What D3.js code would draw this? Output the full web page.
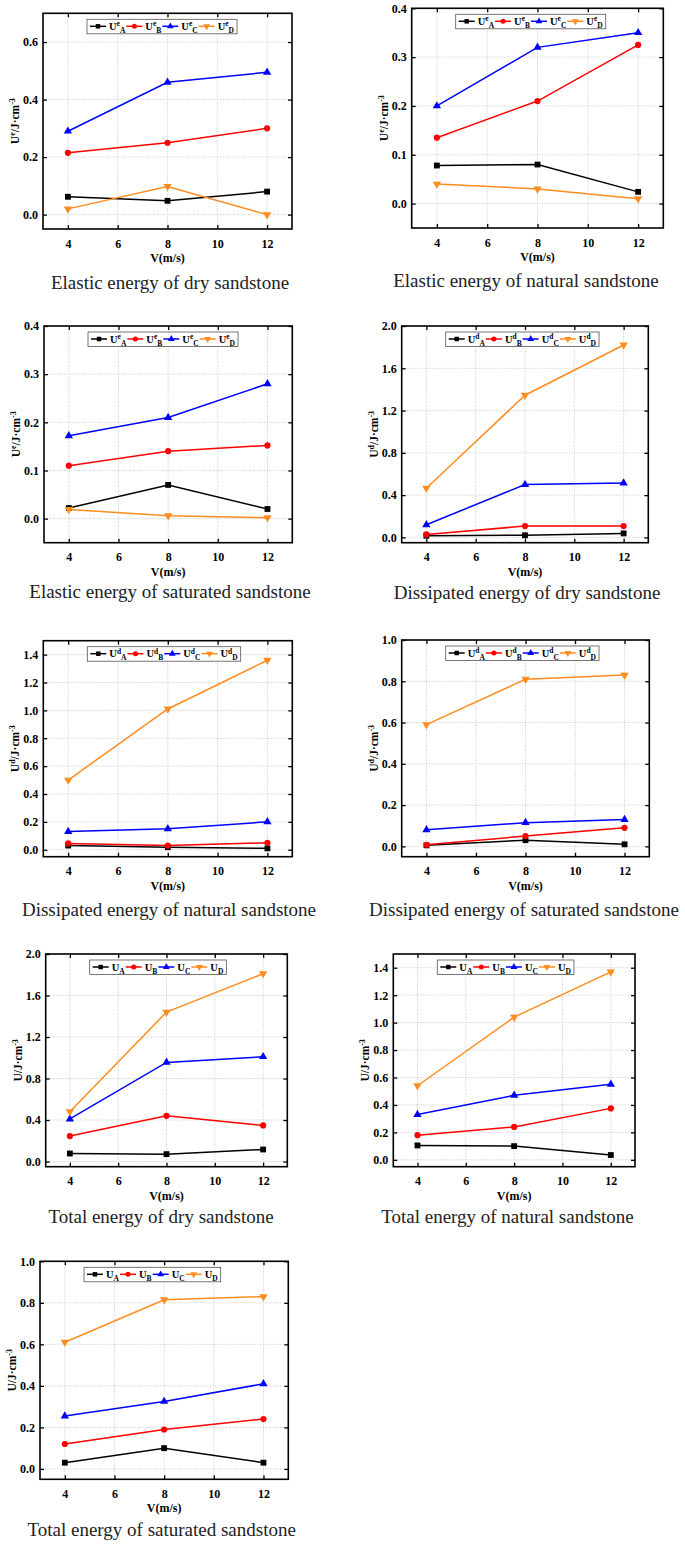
<!DOCTYPE html>
<html>
<head>
<meta charset="utf-8">
<script src="https://cdn.jsdelivr.net/npm/d3@7"></script>
<style>
  body { margin: 0; background: #fff; }
  svg { display: block; }
</style>
</head>
<body>
<div id="chart"></div>
<script>
// impact speed (m/s) on the x axis
const speeds = [4, 8, 12];
const xTicks = [4, 6, 8, 10, 12];
const seriesKeys = ["A", "B", "C", "D"];

// energy density J/cm3, rows = series A, B, C, D
const elasticDry = [[0.062, 0.048, 0.080], [0.215, 0.250, 0.300], [0.290, 0.460, 0.495], [0.020, 0.098, 0.000]];
const elasticNatural = [[0.078, 0.080, 0.024], [0.135, 0.210, 0.325], [0.200, 0.320, 0.350], [0.040, 0.030, 0.010]];
const elasticSaturated = [[0.022, 0.070, 0.020], [0.110, 0.140, 0.152], [0.172, 0.210, 0.280], [0.019, 0.006, 0.002]];
const dissipatedDry = [[0.016, 0.020, 0.038], [0.028, 0.107, 0.107], [0.120, 0.500, 0.515], [0.465, 1.345, 1.820]];
const dissipatedNatural = [[0.030, 0.018, 0.010], [0.045, 0.030, 0.050], [0.130, 0.150, 0.200], [0.500, 1.010, 1.360]];
const dissipatedSaturated = [[0.005, 0.030, 0.010], [0.008, 0.050, 0.090], [0.080, 0.115, 0.130], [0.590, 0.810, 0.830]];
const totalDry = [[0.077, 0.071, 0.116], [0.245, 0.440, 0.348], [0.410, 0.955, 1.010], [0.480, 1.440, 1.810]];
const totalNatural = [[0.105, 0.100, 0.035], [0.180, 0.240, 0.375], [0.330, 0.470, 0.550], [0.540, 1.040, 1.370]];
const totalSaturated = [[0.030, 0.100, 0.030], [0.120, 0.190, 0.240], [0.255, 0.325, 0.410], [0.610, 0.815, 0.830]];

// y tick labels
const ticksElasticDry = [0, 0.2, 0.4, 0.6];
const ticksTenths = [0, 0.1, 0.2, 0.3, 0.4];
const ticksTwo = [0, 0.4, 0.8, 1.2, 1.6, 2.0];
const ticksFifths14 = [0, 0.2, 0.4, 0.6, 0.8, 1.0, 1.2, 1.4];
const ticksFifths10 = [0, 0.2, 0.4, 0.6, 0.8, 1.0];

const captions = [
  "Elastic energy of dry sandstone",
  "Elastic energy of natural sandstone",
  "Elastic energy of saturated sandstone",
  "Dissipated energy of dry sandstone",
  "Dissipated energy of natural sandstone",
  "Dissipated energy of saturated sandstone",
  "Total energy of dry sandstone",
  "Total energy of natural sandstone",
  "Total energy of saturated sandstone"
];

const colors = ["#000000", "#ff0000", "#0000ff", "#ff8c1e"];
const symbols = [d3.symbolSquare, d3.symbolCircle, d3.symbolTriangle, d3.symbolTriangle];
const serif = "'Liberation Serif', 'Times New Roman', 'DejaVu Serif', serif";

// panel boxes (layout only)
const panels = [
  { data: elasticDry, ticks: ticksElasticDry, yMax: 0.7, sup: "e", x0: 43, x1: 292, y0: 13.3, y1: 229, capX: 170, capY: 289 },
  { data: elasticNatural, ticks: ticksTenths, yMax: 0.4, sup: "e", x0: 411.7, x1: 663.3, y0: 8.3, y1: 228, capX: 526, capY: 287 },
  { data: elasticSaturated, ticks: ticksTenths, yMax: 0.4, sup: "e", x0: 44, x1: 292.3, y0: 326, y1: 542.7, capX: 170, capY: 598 },
  { data: dissipatedDry, ticks: ticksTwo, yMax: 2.0, sup: "d", x0: 401.7, x1: 648.3, y0: 326, y1: 542.7, capX: 527, capY: 599 },
  { data: dissipatedNatural, ticks: ticksFifths14, yMax: 1.5, sup: "d", x0: 43.3, x1: 292.3, y0: 640.7, y1: 856.7, capX: 169, capY: 916 },
  { data: dissipatedSaturated, ticks: ticksFifths10, yMax: 1.0, sup: "d", x0: 401.7, x1: 649.3, y0: 640, y1: 856.7, capX: 524, capY: 916 },
  { data: totalDry, ticks: ticksTwo, yMax: 2.0, sup: "", x0: 45.7, x1: 287.3, y0: 954, y1: 1166.7, capX: 161, capY: 1222.7 },
  { data: totalNatural, ticks: ticksFifths14, yMax: 1.5, sup: "", x0: 393.3, x1: 635, y0: 954, y1: 1166.7, capX: 507.5, capY: 1222.7 },
  { data: totalSaturated, ticks: ticksFifths10, yMax: 1.0, sup: "", x0: 40, x1: 288.3, y0: 1261.3, y1: 1479.3, capX: 161.7, capY: 1536 }
];

const svg = d3.select("#chart").append("svg")
  .attr("width", 685)
  .attr("height", 1545)
  .style("font-family", serif);

function symbolPath(i, size) {
  return d3.symbol().type(symbols[i]).size(size)();
}

function drawPanel(p, idx) {
  const x = d3.scaleLinear().domain([3, 13]).range([p.x0, p.x1]);
  const y = d3.scaleLinear().domain([-0.05, p.yMax]).range([p.y1, p.y0]);
  const g = svg.append("g");

  // dotted grid
  g.selectAll(".gx").data(xTicks).join("line")
    .attr("x1", d => x(d)).attr("x2", d => x(d))
    .attr("y1", p.y0).attr("y2", p.y1)
    .attr("stroke", "#bdbdbd").attr("stroke-width", 0.8).attr("stroke-dasharray", "1,1.5");
  g.selectAll(".gy").data(p.ticks).join("line")
    .attr("x1", p.x0).attr("x2", p.x1)
    .attr("y1", d => y(d)).attr("y2", d => y(d))
    .attr("stroke", "#bdbdbd").attr("stroke-width", 0.8).attr("stroke-dasharray", "1,1.5");

  // axes, ticks pointing inward
  const fmt = d3.format(".1f");
  const ax = [
    g.append("g").attr("transform", `translate(${p.x0},0)`)
      .call(d3.axisLeft(y).tickValues(p.ticks).tickFormat(fmt).tickSizeInner(-4).tickSizeOuter(0).tickPadding(5)),
    g.append("g").attr("transform", `translate(${p.x1},0)`)
      .call(d3.axisRight(y).tickValues(p.ticks).tickFormat("").tickSizeInner(-4).tickSizeOuter(0)),
    g.append("g").attr("transform", `translate(0,${p.y1})`)
      .call(d3.axisBottom(x).tickValues(xTicks).tickFormat(d3.format("d")).tickSizeInner(-4).tickSizeOuter(0).tickPadding(10)),
    g.append("g").attr("transform", `translate(0,${p.y0})`)
      .call(d3.axisTop(x).tickValues(xTicks).tickFormat("").tickSizeInner(-4).tickSizeOuter(0))
  ];
  ax.forEach(a => {
    a.attr("font-family", null).attr("font-size", null);
    a.select(".domain").remove();
    a.selectAll("line").attr("stroke", "#000").attr("stroke-width", 1.3);
    a.selectAll("text").style("font-family", serif).style("font-size", "12px")
      .style("font-weight", "bold").attr("fill", "#000");
  });

  g.append("rect")
    .attr("x", p.x0).attr("y", p.y0)
    .attr("width", p.x1 - p.x0).attr("height", p.y1 - p.y0)
    .attr("fill", "none").attr("stroke", "#000").attr("stroke-width", 1.6);

  // series
  const line = d3.line().x((d, i) => x(speeds[i])).y(d => y(d));
  p.data.forEach((vals, s) => {
    g.append("path").datum(vals)
      .attr("d", line)
      .attr("fill", "none").attr("stroke", colors[s]).attr("stroke-width", 1.5);
    g.selectAll(null).data(vals).join("path")
      .attr("d", symbolPath(s, s === 0 ? 34 : 30))
      .attr("transform", (d, i) => `translate(${x(speeds[i])},${y(d)})${s === 3 ? " rotate(180)" : ""}`)
      .attr("fill", colors[s]);
  });

  // legend
  const lg = g.append("g").attr("transform", `translate(${p.x0 + 44},${p.y0 + 6})`);
  const box = lg.append("rect").attr("height", 14.5)
    .attr("fill", "#fff").attr("stroke", "#555").attr("stroke-width", 0.8);
  let cx = 3;
  seriesKeys.forEach((k, s) => {
    lg.append("line").attr("x1", cx).attr("x2", cx + 16).attr("y1", 7).attr("y2", 7)
      .attr("stroke", colors[s]).attr("stroke-width", 1.5);
    lg.append("path").attr("d", symbolPath(s, 20))
      .attr("transform", `translate(${cx + 8},7)${s === 3 ? " rotate(180)" : ""}`)
      .attr("fill", colors[s]);
    const t = lg.append("text").attr("x", cx + 19).attr("y", 10.5)
      .style("font-size", "10.5px").style("font-weight", "bold").attr("fill", "#000");
    t.append("tspan").text("U");
    if (p.sup) {
      t.append("tspan").style("font-size", "7.5px").attr("dy", -3.5).text(p.sup);
      t.append("tspan").style("font-size", "7.5px").attr("dy", 6.5).text(k);
    } else {
      t.append("tspan").style("font-size", "7.5px").attr("dy", 3).text(k);
    }
    cx += 19 + t.node().getComputedTextLength() + 1;
  });
  box.attr("width", cx + 2);

  // axis titles
  g.append("text")
    .attr("x", (p.x0 + p.x1) / 2).attr("y", p.y1 + 33)
    .attr("text-anchor", "middle").style("font-size", "12px").style("font-weight", "bold")
    .text("V(m/s)");

  const yt = g.append("text")
    .attr("transform", `translate(${p.x0 - 24},${(p.y0 + p.y1) / 2}) rotate(-90)`)
    .attr("text-anchor", "middle").style("font-size", "11.5px").style("font-weight", "bold");
  yt.append("tspan").text("U");
  if (p.sup) {
    yt.append("tspan").style("font-size", "8px").attr("dy", -4).text(p.sup);
    yt.append("tspan").attr("dy", 4).text("/J·cm");
  } else {
    yt.append("tspan").text("/J·cm");
  }
  yt.append("tspan").style("font-size", "8px").attr("dy", -4).text("-3");

  // caption
  g.append("text")
    .attr("x", p.capX).attr("y", p.capY)
    .attr("text-anchor", "middle").style("font-size", "19px").attr("fill", "#222")
    .text(captions[idx]);
}

panels.forEach(drawPanel);
</script>
</body>
</html>
